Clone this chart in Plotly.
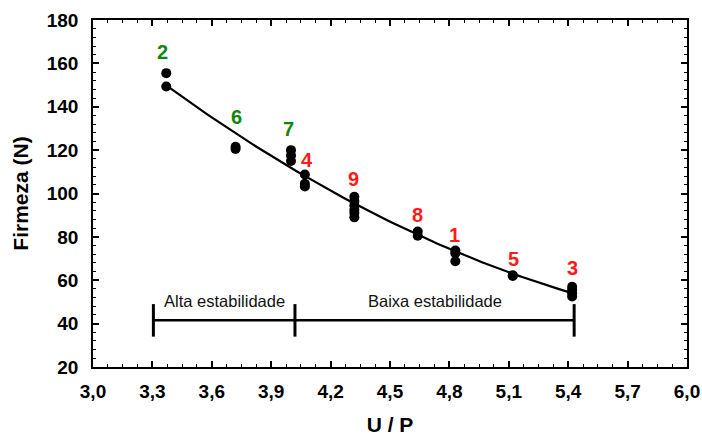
import numpy as np
import plotly.graph_objects as go

# Data
up_values = [3.37, 3.37,
             3.72, 3.72,
             4.00, 4.00, 4.00,
             4.07, 4.07, 4.07,
             4.32, 4.32, 4.32, 4.32, 4.32, 4.32,
             4.64, 4.64,
             4.83, 4.83, 4.83,
             5.12, 5.12,
             5.42, 5.42, 5.42, 5.42]
firmeza_values = [155.5, 149.3,
                  121.5, 120.5,
                  120.0, 117.5, 115.0,
                  108.8, 104.5, 103.2,
                  98.5, 96.5, 94.5, 92.5, 91.0, 89.0,
                  82.5, 80.5,
                  73.7, 72.5, 68.8,
                  62.3, 62.0,
                  57.0, 55.5, 54.0, 52.5]

# Fitted curve, values
curve_x = [3.37, 3.72, 4.00, 4.32, 4.64, 4.83, 5.12, 5.42]
curve_y = [149.0, 128.0, 114.5, 93.5, 81.5, 72.5, 62.2, 55.0]

# Treatment labels
label_text = ["2", "6", "7", "4", "9", "8", "1", "5", "3"]
label_x = [3.35, 3.725, 3.985, 4.081, 4.318, 4.641, 4.828, 5.126, 5.424]
label_y = [165.3, 135.3, 129.8, 115.5, 106.7, 90.1, 80.9, 69.9, 65.7]
label_color = ["#0b880b", "#0b880b", "#0b880b", "#ff1a1a", "#ff1a1a",
               "#ff1a1a", "#ff1a1a", "#ff1a1a", "#ff1a1a"]

# Stability brackets
bracket_x = [3.305, 4.02, 5.43]
bracket_y = 41.5
bracket_names = ["Alta estabilidade", "Baixa estabilidade"]

x_ticks = [3.0, 3.3, 3.6, 3.9, 4.2, 4.5, 4.8, 5.1, 5.4, 5.7, 6.0]
x_ticktext = [f"{v:.1f}".replace(".", ",") for v in x_ticks]
y_ticks = [20, 40, 60, 80, 100, 120, 140, 160, 180]

coef = np.polyfit(curve_x, curve_y, 2)
cx = np.linspace(curve_x[0], curve_x[-1], 100)
cy = np.polyval(coef, cx)

FONT = "Liberation Sans, Arial"

fig = go.Figure()
fig.add_trace(go.Scatter(x=cx, y=cy, mode="lines",
                         line=dict(color="black", width=2.2), hoverinfo="skip"))
fig.add_trace(go.Scatter(x=up_values, y=firmeza_values, mode="markers",
                         marker=dict(color="black", size=10)))

for t, xx, yy, c in zip(label_text, label_x, label_y, label_color):
    fig.add_annotation(x=xx, y=yy, text=f"<b>{t}</b>", showarrow=False,
                       font=dict(family=FONT, size=20, color=c))

# bracket lines
fig.add_shape(type="line", x0=bracket_x[0], x1=bracket_x[-1], y0=bracket_y, y1=bracket_y,
              line=dict(color="black", width=2.5))
for bx in bracket_x:
    fig.add_shape(type="line", x0=bx, x1=bx, y0=bracket_y - 7.5, y1=bracket_y + 7.5,
                  line=dict(color="black", width=3))
for i, name in enumerate(bracket_names):
    fig.add_annotation(x=(bracket_x[i] + bracket_x[i + 1]) / 2, y=bracket_y + 9,
                       text=name, showarrow=False,
                       font=dict(family=FONT, size=16.5, color="#111111"))

axis_common = dict(showgrid=False, zeroline=False, showline=True, linecolor="black",
                   linewidth=1.5, mirror="allticks", ticks="inside", ticklen=6,
                   tickwidth=1.5, tickcolor="black", automargin=False,
                   tickfont=dict(family=FONT, size=19, color="black"))

fig.update_xaxes(range=[3.0, 6.0], tickvals=x_ticks,
                 ticktext=[f"<b>{t}</b>" for t in x_ticktext],
                 ticklabelstandoff=6,
                 minor=dict(dtick=0.075, ticks="inside", ticklen=3, tickcolor="black", tickwidth=1),
                 title=dict(text="<b>U / P</b>", font=dict(family=FONT, size=21, color="black"),
                            standoff=30),
                 **axis_common)
fig.update_yaxes(range=[20, 180], tickvals=y_ticks,
                 ticktext=[f"<b>{t}</b>" for t in y_ticks],
                 ticklabelstandoff=9,
                 minor=dict(dtick=4, ticks="inside", ticklen=3, tickcolor="black", tickwidth=1),
                 title=dict(text="<b>Firmeza (N)</b>", font=dict(family=FONT, size=21, color="black"),
                            standoff=12),
                 **axis_common)

fig.update_layout(width=702, height=436, showlegend=False,
                  plot_bgcolor="white", paper_bgcolor="white",
                  margin=dict(l=93, r=15, t=20, b=69))

fig.write_html("out.html", config={"displayModeBar": False},
               post_script="document.body.style.margin='0';document.body.style.overflow='hidden';")
